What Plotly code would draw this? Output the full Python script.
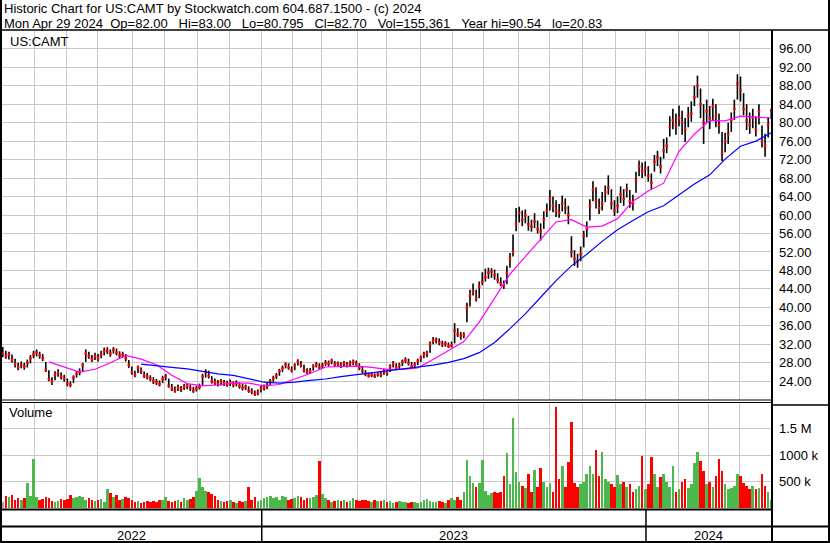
import pandas as pd
import plotly.graph_objects as go

# ---------------- data ----------------
holidays = ["2022-05-30", "2022-06-20", "2022-07-04", "2022-09-05", "2022-11-24", "2022-12-26",
            "2023-01-02", "2023-01-16", "2023-02-20", "2023-04-07", "2023-05-29", "2023-06-19",
            "2023-07-04", "2023-09-04", "2023-11-23", "2023-12-25",
            "2024-01-01", "2024-01-15", "2024-02-19", "2024-03-29"]
days = pd.bdate_range("2022-05-02", "2024-04-29", freq="C", holidays=holidays)
n_days = len(days)

# one bar per two trading days
cl = [30.0, 29.5, 29.8, 28.6, 27.8, 27.0, 27.6, 27.2, 28.0, 29.0, 29.8,
      30.2, 29.6, 29.0, 26.5, 24.5, 24.0, 25.5, 25.8, 25.0, 24.6,
      23.5, 23.3, 24.8, 25.6, 26.0, 27.5, 30.0, 29.5, 28.8, 29.4,
      29.0, 29.8, 30.5, 30.6, 30.0, 30.8, 30.2, 29.6, 29.8, 29.0, 27.5,
      26.0, 25.4, 27.0, 26.2, 25.2, 25.0, 24.6, 24.0, 23.8, 23.4,
      24.5, 25.0, 23.0, 22.4, 22.0, 22.6, 22.3, 22.8, 23.0, 22.5, 22.0,
      22.4, 22.8, 25.0, 26.0, 25.2, 24.0, 23.8, 23.5, 23.9, 23.6, 23.3,
      23.8, 23.2, 23.6, 23.0, 22.6, 22.8, 22.0, 21.8, 21.2, 21.6,
      22.4, 22.6, 23.0, 24.0, 24.6, 25.2, 26.2, 26.8, 27.6, 27.0, 26.4,
      27.4, 28.2, 27.6, 26.4, 26.0, 26.2, 27.2, 27.6, 27.0, 27.4,
      28.0, 27.8, 28.4, 27.6, 27.8, 27.4, 27.9, 27.6, 28.0, 28.2, 27.8,
      27.0, 26.2, 25.6, 25.2, 25.4, 25.1, 25.5, 25.4, 26.2, 25.8,
      27.2, 27.8, 27.0, 27.4, 28.2, 28.6, 28.0, 27.2, 27.6, 28.4,
      29.0, 29.8, 30.0, 32.0, 32.8, 33.0, 32.4, 32.0, 32.2, 31.6, 31.8,
      35.0, 34.2, 33.8, 34.0, 40.0, 42.5, 43.5, 42.0, 44.5, 45.5,
      46.5, 47.5, 47.8, 47.0, 46.0, 45.2, 44.8, 47.5, 50.5, 52.0, 58.0,
      60.5, 59.0, 60.0, 58.0, 57.5, 58.6, 57.0, 56.5, 59.0, 61.0,
      63.5, 62.0, 61.0, 60.5, 62.5, 61.5, 60.0, 52.0, 50.5, 50.0, 51.5,
      55.5, 57.0, 62.0, 65.5, 63.0, 61.5, 62.5, 65.0, 66.0, 62.5, 61.0,
      62.0, 64.5, 63.5, 65.5, 63.0, 62.5, 67.5, 70.5, 69.5, 70.0,
      68.5, 67.0, 71.5, 72.5, 70.5, 74.0, 75.0, 79.0, 80.5, 79.5, 81.0,
      80.0, 78.5, 81.5, 82.0, 85.5, 88.0, 84.0, 80.0, 82.5, 81.0,
      83.5, 81.5, 79.5, 73.5, 76.0, 77.5, 80.5, 83.0, 88.5, 87.0,
      83.0, 80.5, 79.5, 81.0, 78.5, 82.5, 76.0, 75.0, 79.5, 82.7]

hi = [31.4, 30.6, 30.4, 29.8, 28.9, 28.0, 28.3, 28.0, 28.7, 29.7, 30.6,
      30.9, 30.4, 29.9, 28.2, 26.4, 24.9, 26.2, 26.6, 25.9, 25.4,
      24.6, 24.0, 25.3, 26.2, 26.8, 28.0, 30.9, 30.4, 29.7, 30.2,
      29.9, 30.6, 31.3, 31.4, 30.9, 31.4, 31.1, 30.5, 30.4, 29.9, 28.6,
      27.2, 26.3, 27.4, 27.0, 26.1, 25.8, 25.3, 24.9, 24.5, 24.2,
      25.2, 25.6, 24.6, 23.4, 22.9, 23.3, 23.0, 23.4, 23.6, 23.3, 22.8,
      23.0, 23.5, 25.6, 26.6, 26.3, 25.1, 24.6, 24.3, 24.5, 24.3, 24.1,
      24.4, 24.0, 24.2, 23.8, 23.4, 23.3, 22.9, 22.5, 22.0, 22.2,
      23.0, 23.3, 23.7, 24.5, 25.2, 25.8, 26.7, 27.4, 28.1, 27.9, 27.2,
      27.9, 28.8, 28.4, 27.6, 26.8, 26.9, 27.7, 28.2, 27.9, 28.0,
      28.6, 28.5, 28.9, 28.4, 28.3, 28.1, 28.4, 28.2, 28.5, 28.7, 28.5,
      27.9, 27.1, 26.4, 25.9, 25.9, 25.7, 26.0, 26.1, 26.7, 26.5,
      27.7, 28.4, 27.9, 28.0, 28.7, 29.2, 28.9, 28.2, 28.2, 28.9,
      29.6, 30.4, 30.6, 32.6, 33.6, 33.5, 33.3, 32.8, 32.7, 32.4, 32.6,
      36.6, 35.5, 34.7, 34.6, 41.0, 43.8, 45.2, 43.8, 45.6, 47.6,
      48.4, 48.6, 48.5, 48.2, 47.4, 46.5, 45.8, 49.0, 51.8, 55.8, 61.5,
      61.8, 61.0, 61.2, 59.8, 59.0, 60.4, 58.8, 58.2, 60.8, 62.5,
      65.4, 64.0, 63.2, 62.4, 64.2, 63.6, 62.0, 55.4, 52.4, 51.6, 53.2,
      56.6, 58.6, 63.4, 67.3, 66.0, 63.6, 65.0, 66.4, 68.6, 65.6, 63.2,
      64.0, 66.2, 65.6, 66.8, 65.4, 64.4, 69.4, 71.8, 71.4, 71.6,
      70.6, 69.0, 73.0, 73.9, 72.6, 76.5, 76.8, 81.4, 83.0, 82.0, 83.7,
      82.6, 81.0, 83.4, 84.6, 88.0, 90.2, 87.4, 84.0, 85.0, 83.6,
      85.2, 84.0, 82.0, 78.0, 77.8, 80.0, 82.2, 85.0, 90.5, 90.0,
      86.4, 84.0, 82.2, 83.0, 81.4, 84.0, 79.4, 77.6, 81.2, 83.0]

lo = [29.2, 28.9, 28.7, 28.0, 27.0, 26.4, 26.8, 26.5, 27.0, 27.9, 29.0,
      29.4, 28.9, 28.4, 26.0, 24.0, 23.2, 24.2, 25.0, 24.4, 23.9,
      22.9, 22.7, 23.6, 24.8, 25.3, 26.2, 28.2, 28.9, 28.2, 28.6,
      28.3, 29.0, 29.6, 29.9, 29.3, 30.0, 29.6, 29.0, 29.1, 28.3, 26.9,
      25.4, 24.9, 25.8, 25.6, 24.7, 24.4, 24.0, 23.4, 23.2, 22.9,
      23.6, 24.2, 22.6, 21.9, 21.5, 21.9, 21.7, 22.1, 22.3, 21.9, 21.5,
      21.8, 22.2, 23.2, 24.8, 24.6, 23.5, 23.2, 22.9, 23.1, 23.0, 22.8,
      23.0, 22.7, 22.9, 22.4, 22.0, 22.1, 21.5, 21.2, 20.8, 21.0,
      21.6, 22.0, 22.3, 23.1, 23.9, 24.5, 25.2, 26.0, 26.8, 26.5, 25.9,
      26.4, 27.4, 27.0, 25.9, 25.6, 25.6, 26.3, 27.0, 26.5, 26.8,
      27.3, 27.2, 27.7, 27.1, 27.2, 26.9, 27.2, 27.0, 27.3, 27.5, 27.2,
      26.4, 25.7, 25.1, 24.8, 24.9, 24.7, 25.0, 24.9, 25.4, 25.2,
      26.0, 27.0, 26.4, 26.7, 27.3, 27.9, 27.4, 26.7, 27.0, 27.5,
      28.2, 29.0, 29.2, 30.2, 32.0, 32.2, 31.8, 31.4, 31.5, 31.2, 31.3,
      32.2, 33.6, 33.0, 33.3, 36.8, 40.2, 42.6, 41.3, 42.0, 44.8,
      45.6, 46.2, 46.4, 46.0, 45.2, 44.6, 44.0, 45.0, 48.6, 51.0, 56.5,
      58.4, 57.6, 58.2, 56.6, 56.4, 57.2, 56.0, 54.5, 57.0, 59.6,
      61.0, 60.6, 59.6, 59.4, 60.8, 60.2, 58.0, 50.8, 49.0, 48.6, 50.0,
      53.0, 55.2, 58.8, 63.0, 61.4, 60.2, 61.0, 62.8, 64.4, 61.2, 59.8,
      60.4, 62.6, 62.0, 63.8, 61.6, 61.0, 64.8, 68.4, 68.0, 68.4,
      67.2, 65.6, 69.4, 70.6, 69.0, 72.2, 73.4, 77.0, 78.6, 77.4, 79.2,
      77.4, 75.8, 79.0, 80.2, 83.6, 85.4, 81.0, 75.4, 80.0, 78.6,
      80.6, 79.0, 77.6, 71.7, 73.6, 75.4, 78.0, 80.6, 85.0, 84.6,
      81.6, 78.4, 77.6, 78.8, 77.0, 79.6, 74.6, 72.6, 76.8, 80.8]

# volume in thousands of shares
vol_k = [110, 230, 200, 240, 160, 190, 150, 180, 480, 230, 920,
         200, 150, 170, 200, 190, 140, 120, 130, 170, 150,
         170, 250, 180, 210, 230, 200, 150, 190, 160, 140,
         150, 170, 120, 350, 290, 200, 250, 150, 170, 200, 180,
         150, 120, 140, 100, 110, 130, 120, 140, 110, 150,
         160, 200, 130, 120, 140, 150, 120, 190, 150, 170, 210,
         330, 560, 400, 320, 300, 260, 220, 150, 130, 120, 140,
         150, 110, 100, 140, 120, 130, 390, 150, 200, 130,
         150, 180, 200, 220, 180, 200, 160, 230, 210, 150, 170,
         180, 230, 200, 160, 180, 190, 200, 240, 880, 260,
         180, 150, 120, 140, 160, 130, 150, 120, 140, 180, 150,
         140, 160, 150, 130, 120, 150, 140, 130, 150, 120,
         130, 100, 120, 140, 110, 120, 90, 110, 120, 100,
         120, 150, 170, 130, 120, 110, 140, 120, 100, 150, 190,
         150, 200, 160, 300, 900, 610, 480, 400, 480, 900,
         330, 250, 280, 300, 290, 310, 600, 1030, 450, 1690, 680,
         500, 420, 380, 650, 300, 720, 400, 750, 500, 400,
         480, 300, 1910, 550, 800, 400, 870, 1630, 480, 400, 450,
         500, 650, 800, 650, 1090, 600, 1060, 550, 500, 450, 400,
         620, 450, 500, 400, 450, 300, 350, 420, 975, 350,
         450, 960, 650, 400, 580, 640, 500, 400, 800, 300, 350,
         500, 540, 380, 450, 840, 1060, 880, 700, 450, 500,
         400, 600, 930, 700, 450, 350, 380, 420, 650, 600,
         480, 420, 350, 420, 350, 380, 650, 420, 300, 160]

# moving averages, one value per ten trading days
ma_magenta = [None, None, None,
              28.2, 27.1, 26.0, 26.6, 28.0, 29.6, 28.8, 27.6, 25.3, 23.5, 23.0, 23.2,
              23.6, 23.6, 23.0, 23.3, 24.5, 25.7, 27.1, 27.2, 27.3, 27.0, 26.6, 26.6,
              26.9, 28.7, 30.6, 32.6, 36.8, 42.0, 47.2, 51.0, 54.7, 58.5, 59.0, 57.4,
              57.6, 59.2, 63.0, 65.2, 66.9, 73.8, 77.5, 80.5, 80.4, 81.4, 81.2, 81.0]
ma_blue = [None, None, None, None, None, None, None, None, None,
           27.7, 27.3, 27.0, 26.7, 26.2, 25.6, 25.3, 24.6, 23.8, 23.6, 23.8, 24.2,
           24.5, 25.0, 25.4, 25.8, 26.2, 26.7, 27.0, 27.5, 28.1, 28.9, 30.2, 32.4,
           35.4, 38.6, 42.2, 45.8, 49.0, 51.5, 54.3, 56.8, 58.8, 60.7, 62.0, 64.3,
           66.7, 68.7, 72.1, 74.9, 76.0, 77.8]

price_ticks = list(range(24, 97, 4))
vol_ticks = [500000, 1000000, 1500000]
vol_tick_text = ["500 k", "1000 k", "1.5 M"]

header1 = "Historic Chart for US:CAMT by Stockwatch.com 604.687.1500 - (c) 2024"
header2 = ("Mon Apr 29 2024" + "\u00a0\u00a0" +
           "\u00a0\u00a0\u00a0".join(["Op=82.00", "Hi=83.00", "Lo=80.795", "Cl=82.70",
                                      "Vol=155,361", "Year hi=90.54", "lo=20.83"]))

# ---------------- derived positions ----------------
xs = list(range(0, n_days, 2))[:len(cl)]
xm = list(range(0, n_days, 10))[:len(ma_magenta)]
month_starts = [i for i in range(1, n_days) if days[i].month != days[i - 1].month]
year_starts = [i for i in range(1, n_days) if days[i].year != days[i - 1].year]
year_bounds = [0] + year_starts + [n_days]

W, H = 830, 543
FONT = "Liberation Sans, Arial, sans-serif"


def fx(px):
    return px / W


def fy(py):
    return 1 - py / H


bx, by = [], []
for x, h, l in zip(xs, hi, lo):
    bx += [x, x, None]
    by += [l, h, None]

vol_colors = []
for i, c in enumerate(cl):
    if i == 0 or c == cl[i - 1]:
        vol_colors.append("#a8a8a8")
    elif c < cl[i - 1]:
        vol_colors.append("#ff0000")
    else:
        vol_colors.append("#4cb84c")

fig = go.Figure()
fig.add_trace(go.Scatter(x=bx, y=by, mode="lines", line=dict(color="black", width=1.6),
                         hoverinfo="skip", xaxis="x", yaxis="y"))
fig.add_trace(go.Scatter(x=xs, y=cl, mode="markers",
                         marker=dict(symbol="square", size=2.5, color="#ff0000", line=dict(width=0)),
                         xaxis="x", yaxis="y"))
fig.add_trace(go.Scatter(x=xm, y=ma_magenta, mode="lines", line=dict(color="#ff00ff", width=1.2),
                         xaxis="x", yaxis="y"))
fig.add_trace(go.Scatter(x=xm, y=ma_blue, mode="lines", line=dict(color="#0000ff", width=1.2),
                         xaxis="x", yaxis="y"))
fig.add_trace(go.Bar(x=xs, y=[v * 1000 for v in vol_k], marker=dict(color=vol_colors, line=dict(width=0)),
                     width=1.7, xaxis="x2", yaxis="y2"))

grid = "#c8c8c8"
xcommon = dict(domain=[fx(2), fx(772)], range=[-0.5, n_days - 0.5],
               tickvals=[m - 0.5 for m in month_starts], showticklabels=False, ticks="",
               showgrid=True, gridcolor=grid, gridwidth=1, zeroline=False, showline=False)

fig.update_layout(
    width=W, height=H, margin=dict(l=0, r=0, t=0, b=0),
    paper_bgcolor="white", plot_bgcolor="white", showlegend=False,
    font=dict(family=FONT, size=13, color="black"),
    xaxis=dict(anchor="y", **xcommon),
    xaxis2=dict(anchor="y2", matches="x", **xcommon),
    yaxis=dict(domain=[fy(400), fy(31)], range=[19.95, 99.85], side="right", anchor="x",
               tickvals=price_ticks, ticktext=["%.2f" % t for t in price_ticks],
               showgrid=True, gridcolor=grid, gridwidth=1, zeroline=False, ticks="",
               ticklabelstandoff=6, tickfont=dict(size=13, color="black")),
    yaxis2=dict(domain=[fy(508), fy(402)], range=[0, 2.0e6], side="right", anchor="x2",
                tickvals=vol_ticks, ticktext=vol_tick_text,
                showgrid=True, gridcolor=grid, gridwidth=1, zeroline=False, ticks="",
                ticklabelstandoff=6, tickfont=dict(size=13, color="black")),
    bargap=0,
)

shapes = []


def hline(y, x0, x1, w):
    shapes.append(dict(type="line", xref="paper", yref="paper", x0=fx(x0), x1=fx(x1),
                       y0=fy(y), y1=fy(y), line=dict(color="black", width=w)))


def vline(x, y0, y1, w):
    shapes.append(dict(type="line", xref="paper", yref="paper", x0=fx(x), x1=fx(x),
                       y0=fy(y0), y1=fy(y1), line=dict(color="black", width=w)))


hline(30, 0, 830, 1.5)
hline(400, 0, 772, 1)
hline(402.5, 0, 772, 1)
hline(405, 772, 830, 1.5)
hline(509.5, 0, 772, 2)
hline(526.5, 0, 830, 2)
hline(542, 0, 830, 2)
vline(1, 0, 543, 2)
vline(829, 0, 543, 2)
vline(772, 30, 543, 2)
for ys in year_starts:
    shapes.append(dict(type="line", xref="x", yref="paper", x0=ys - 0.5, x1=ys - 0.5,
                       y0=fy(543), y1=fy(510), line=dict(color="black", width=1.5)))
fig.update_layout(shapes=shapes)

ann = [
    dict(text=header1, x=fx(2), y=fy(9)),
    dict(text=header2, x=fx(2), y=fy(23)),
    dict(text="US:CAMT", x=fx(8), y=fy(41)),
    dict(text="Volume", x=fx(7), y=fy(413)),
]
annotations = [dict(xref="paper", yref="paper", xanchor="left", yanchor="middle", showarrow=False,
                    font=dict(family=FONT, size=13, color="black"), **a) for a in ann]
for a, b in zip(year_bounds[:-1], year_bounds[1:]):
    annotations.append(dict(xref="x", yref="paper", x=(a + b - 1) / 2, y=fy(535),
                            text=str(days[a].year), showarrow=False, xanchor="center", yanchor="middle",
                            font=dict(family=FONT, size=13, color="black")))
fig.update_layout(annotations=annotations)

fig.write_html("out.html", config={"displayModeBar": False},
               post_script="document.body.style.margin='0';document.body.style.padding='0';"
                           "document.body.style.overflow='hidden';")
